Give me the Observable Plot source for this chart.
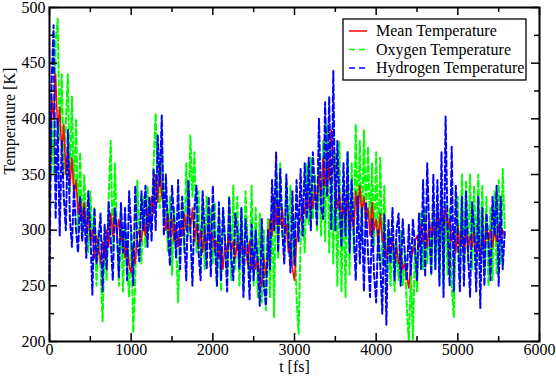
<!DOCTYPE html>
<html><head><meta charset="utf-8">
<script src="https://cdn.jsdelivr.net/npm/d3@7"></script>
<script src="https://cdn.jsdelivr.net/npm/@observablehq/plot@0.6"></script>
<style>
body{margin:0;background:#fff}
svg{display:block}
svg, svg text{font-family:"Liberation Serif","Tinos","Times New Roman","Times","Nimbus Roman","FreeSerif","Noto Serif","DejaVu Serif",serif !important;}
</style>
</head><body><div id="chart"></div>
<script>
// sampling step of the series, in fs
const dt = 25;

// Mean temperature [K], one value per 25 fs
const meanT = [
300,420,400,440, 390,410,370,395, 350,375,340,365, 330,345,315,330,
310,325,300,315, 290,300,275,295, 285,270,290,275, 300,285,315,295,
320,295,310,290, 295,275,290,268, 262,285,270,295, 300,290,310,295,
320,305,330,315, 350,325,360,330, 320,300,315,295, 310,290,305,285,
305,295,315,300, 325,300,320,290, 305,285,300,280, 300,285,305,290,
295,280,290,275, 285,265,290,280, 295,280,290,275, 290,275,295,280,
285,270,290,265, 280,265,275,258, 250,275,260,280, 310,295,330,305,
325,305,320,300, 305,280,290,265, 255,290,305,310, 325,315,335,320,
330,320,340,325, 350,330,365,340, 370,345,390,360, 340,320,335,310,
320,305,330,300, 315,300,335,310, 340,315,330,305, 320,295,325,300,
310,285,315,290, 295,275,290,280, 290,275,285,270, 280,265,270,258,
248,275,280,290, 295,285,305,290, 300,285,310,295, 305,290,320,300,
325,305,320,300, 310,290,300,280, 305,285,300,280, 300,280,295,285,
300,280,290,275, 295,285,305,290, 300,285,300,290, 305,290,300,295
];

// Oxygen temperature [K]
const oxygenT = [
330,400,350,470, 490,380,440,350, 395,440,335,420, 330,400,300,370,
295,350,310,280, 335,290,320,250, 300,265,218,290, 255,330,380,280,
360,300,250,320, 245,310,270,240, 300,208,255,345, 300,270,330,285,
340,300,310,360, 405,340,320,380, 305,340,280,330, 260,320,290,235,
300,330,280,360, 295,385,330,370, 280,335,270,325, 265,330,300,320,
270,325,250,315, 245,320,285,260, 330,255,340,265, 330,250,320,245,
335,290,260,340, 250,320,240,315, 235,300,228,310, 240,330,222,355,
275,360,300,280, 345,285,340,270, 310,240,207,290, 320,280,360,305,
365,310,350,300, 360,295,380,290, 395,280,360,270, 370,250,380,245,
340,240,370,260, 360,280,395,300, 380,290,390,310, 375,300,360,285,
370,275,365,270, 340,265,300,250, 295,245,290,255, 300,250,280,230,
200,260,202,290, 245,300,315,265, 320,270,310,260, 325,265,320,255,
330,250,325,260, 320,250,222,300, 330,255,350,265, 345,270,350,265,
340,270,350,280, 340,260,330,250, 320,255,335,260, 345,270,355,300
];

// Hydrogen temperature [K]
const hydrogenT = [
255,430,484,310, 400,295,380,330, 300,390,310,285, 340,300,280,330,
290,320,275,335, 300,242,320,270, 290,315,245,305, 265,325,290,255,
320,300,258,325, 280,320,255,335, 300,250,340,290, 272,335,300,340,
285,330,290,355, 300,385,340,403, 295,350,300,268, 340,310,275,345,
265,330,290,255, 345,300,250,320, 340,280,255,335, 300,265,330,258,
340,290,250,325, 255,320,290,245, 330,275,255,315, 300,265,320,240,
310,285,238,305, 255,300,270,232, 310,250,232,300, 265,345,300,370,
280,355,300,270, 350,300,262,335, 268,345,290,355, 295,360,310,365,
300,370,335,305, 400,320,310,415, 330,420,300,443, 300,380,320,285,
360,295,370,280, 345,300,255,330, 270,320,245,325, 280,240,310,260,
235,300,270,225, 315,215,310,270, 320,255,300,315, 250,310,280,255,
305,260,310,285, 255,315,265,345, 258,360,300,260, 350,265,345,250,
370,240,402,300, 250,375,245,340, 290,245,330,250, 335,280,240,325,
300,245,330,230, 320,250,315,290, 255,330,295,340, 250,330,265,300
];

const seriesNames = ["Mean Temperature", "Oxygen Temperature", "Hydrogen Temperature"];
const seriesColors = ["#ff0000", "#00ff00", "#0000ff"];
const seriesDash = [null, "6,3", "6,3"];

const xMajor = [0, 1000, 2000, 3000, 4000, 5000, 6000];
const xMinor = [500, 1500, 2500, 3500, 4500, 5500];
const yMajor = [200, 250, 300, 350, 400, 450, 500];
const yMinor = [225, 275, 325, 375, 425, 475];

const W = 556, H = 377, mL = 49, mR = 17, mT = 7, mB = 36;
const innerW = W - mL - mR, innerH = H - mT - mB;
const FONT = "Liberation Serif, Tinos, Times New Roman, Times, Nimbus Roman, FreeSerif, Noto Serif, DejaVu Serif, serif";

const seriesData = [meanT, oxygenT, hydrogenT];
const mkLine = (k) => Plot.line(seriesData[k].map((v, i) => ({t: i * dt, v})), {
  x: "t", y: "v", stroke: seriesColors[k],
  strokeWidth: k === 0 ? 1.5 : 2,
  strokeDasharray: seriesDash[k] ?? undefined
});
// drawing order: oxygen, mean, hydrogen
const lineMarks = [mkLine(1), mkLine(0), mkLine(2)];

const tk = (len) => innerH - len, tkw = (len) => innerW - len;
const svg = Plot.plot({
  width: W, height: H,
  marginLeft: mL, marginRight: mR, marginTop: mT, marginBottom: mB,
  x: {domain: [0, 6000]},
  y: {domain: [200, 500]},
  style: {fontFamily: FONT, fontSize: "16px", background: "#fff", color: "#000", overflow: "visible"},
  marks: [
    ...lineMarks,
    // inward ticks on all four sides
    Plot.tickX(xMajor, {x: d => d, insetTop: tk(8), stroke: "#000", strokeWidth: 1.5}),
    Plot.tickX(xMajor, {x: d => d, insetBottom: tk(8), stroke: "#000", strokeWidth: 1.5}),
    Plot.tickX(xMinor, {x: d => d, insetTop: tk(5), stroke: "#000", strokeWidth: 1.5}),
    Plot.tickX(xMinor, {x: d => d, insetBottom: tk(5), stroke: "#000", strokeWidth: 1.5}),
    Plot.tickY(yMajor, {y: d => d, insetRight: tkw(8), stroke: "#000", strokeWidth: 1.5}),
    Plot.tickY(yMajor, {y: d => d, insetLeft: tkw(8), stroke: "#000", strokeWidth: 1.5}),
    Plot.tickY(yMinor, {y: d => d, insetRight: tkw(5), stroke: "#000", strokeWidth: 1.5}),
    Plot.tickY(yMinor, {y: d => d, insetLeft: tkw(5), stroke: "#000", strokeWidth: 1.5}),
    Plot.frame({stroke: "#000", strokeWidth: 2}),
    Plot.axisX({ticks: xMajor, tickSize: 0, tickPadding: 2, label: null, tickFormat: d => String(d), fontSize: 16}),
    Plot.axisY({ticks: yMajor, tickSize: 0, tickPadding: 4, label: null, tickFormat: d => String(d), fontSize: 16}),
    Plot.text(["t [fs]"], {text: d => d, frameAnchor: "bottom", dy: 30, fontSize: 16}),
    Plot.text(["Temperature [K]"], {text: d => d, frameAnchor: "left", rotate: -90, dx: -40, fontSize: 16})
  ]
});
document.getElementById("chart").appendChild(svg);

// legend box inside the plot (top right)
const lg = d3.select(svg).append("g").attr("font-family", FONT).attr("font-size", 16).attr("text-anchor", "start");
lg.append("rect").attr("x", 343).attr("y", 19).attr("width", 183).attr("height", 61)
  .attr("fill", "#fff").attr("stroke", "#000").attr("stroke-width", 1.3);
seriesNames.forEach((name, k) => {
  const yy = 31 + k * 18.5;
  lg.append("line").attr("x1", 349).attr("x2", 367).attr("y1", yy).attr("y2", yy)
    .attr("stroke", seriesColors[k]).attr("stroke-width", 1.5)
    .attr("stroke-dasharray", seriesDash[k] ? "6,4" : null);
  lg.append("text").attr("x", 376).attr("y", yy).attr("dy", "0.33em").attr("fill", "#000")
    .attr("text-anchor", "start").text(name);
});
</script>
</body></html>
